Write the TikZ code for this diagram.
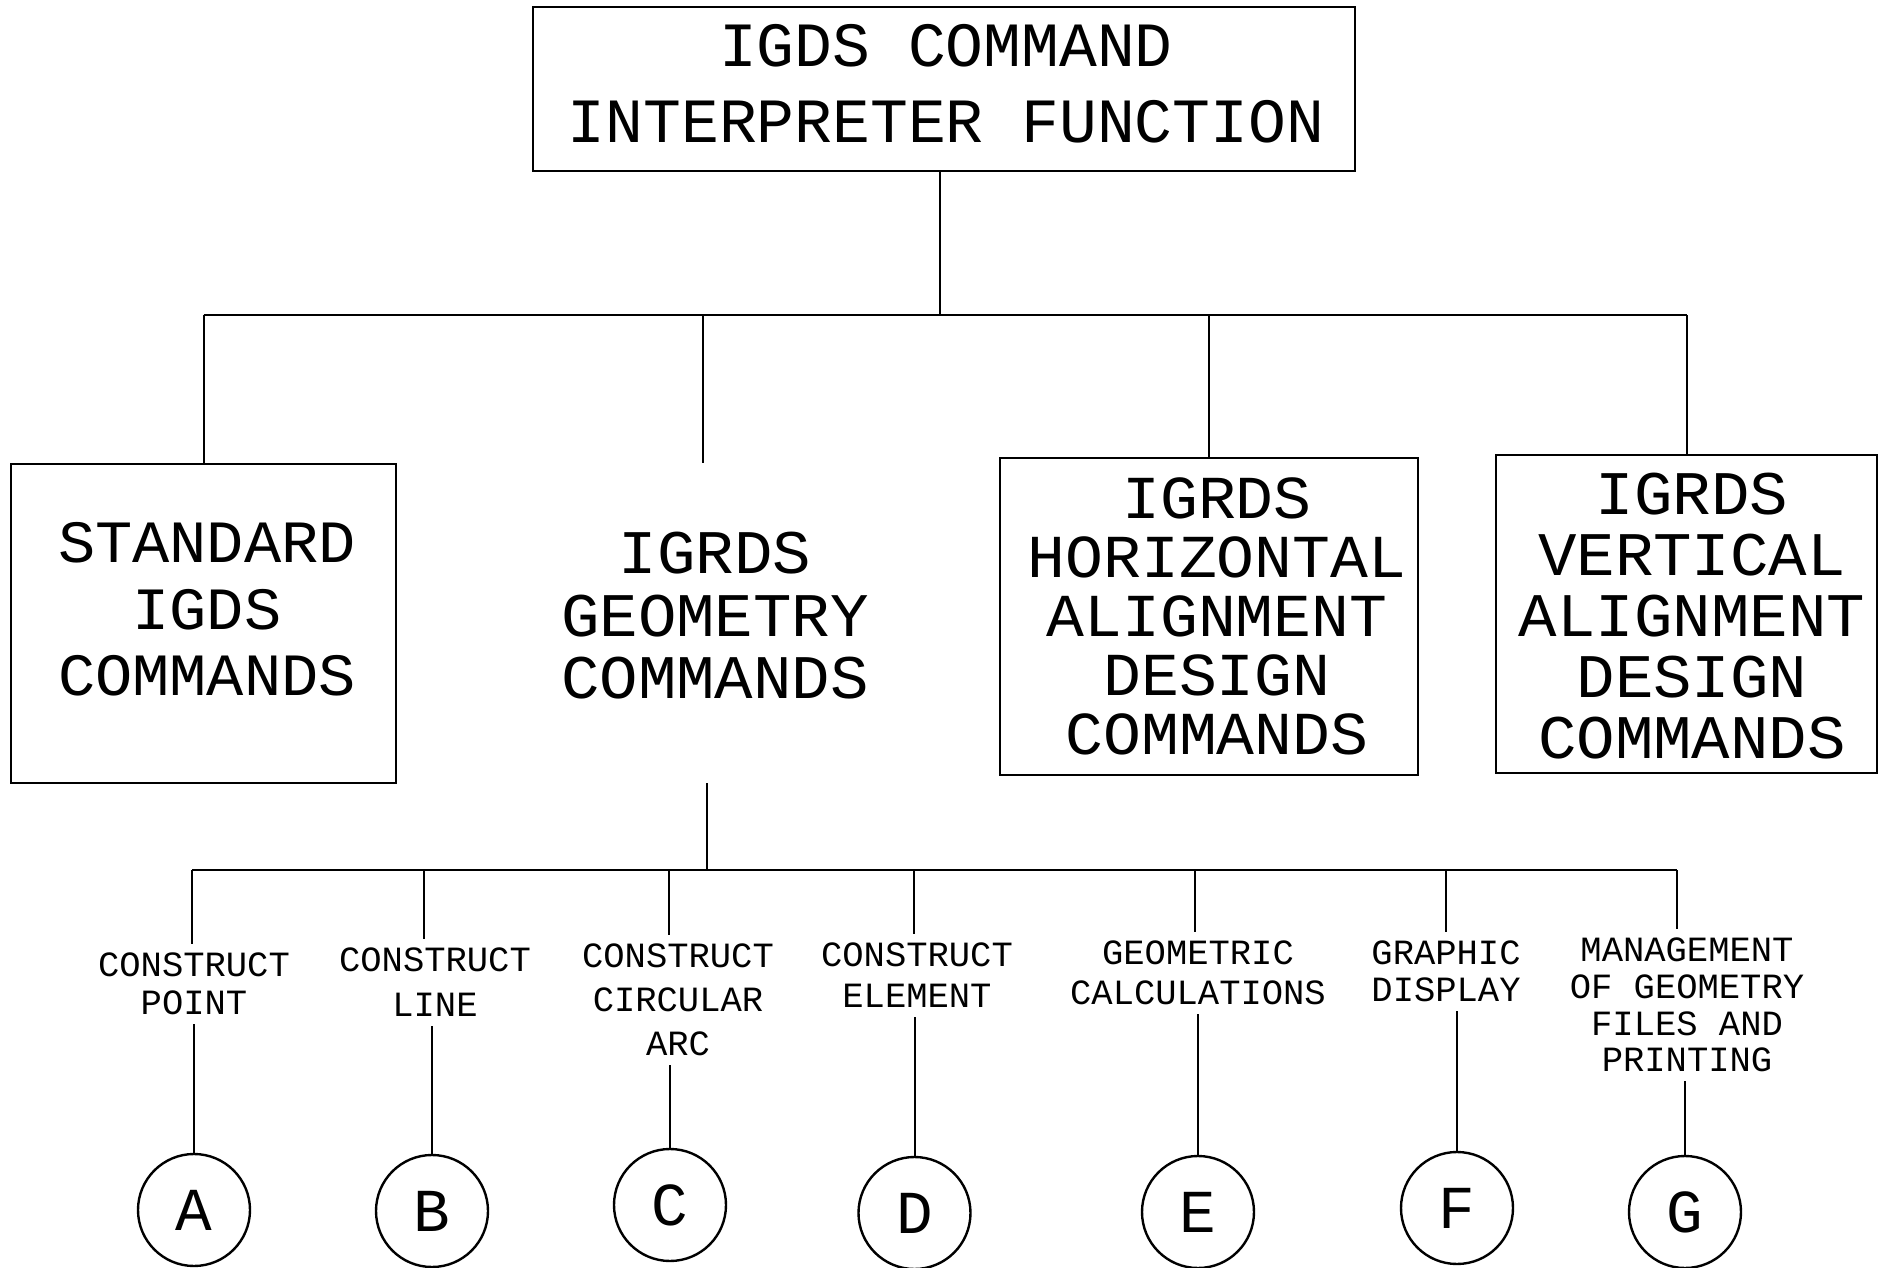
\documentclass[tikz,border=0pt]{standalone}
\usepackage{fontspec}
\newfontfamily\plotA{Liberation Mono}
\newfontfamily\plotB[FakeStretch=1.034]{Liberation Mono}
\begin{document}
\begin{tikzpicture}[x=1pt,y=-1pt,
  conn/.style={line width=2pt},
  boxnode/.style={draw, line width=2.6pt, rectangle, inner sep=0pt},
  bigtxt/.style={align=center, inner sep=0pt},
  lbl/.style={align=center, inner xsep=0pt, inner ysep=9pt},
  circ/.style={draw, circle, line width=2.4pt, minimum size=112pt, inner sep=0pt,
               font=\plotA\fontsize{61}{66}\selectfont}]
\useasboundingbox (0,0) rectangle (1883,1268);

% boxes
\node[boxnode, minimum width=822pt, minimum height=164pt] (top) at (944,89) {};
\node[boxnode, minimum width=385pt, minimum height=319pt] (std) at (203.5,623.5) {};
\node[boxnode, minimum width=418pt, minimum height=317pt] (hor) at (1209,616.5) {};
\node[boxnode, minimum width=381pt, minimum height=318pt] (ver) at (1686.5,614) {};

% box texts
\node[bigtxt, font=\plotA\fontsize{63}{76}\selectfont] (topT) at (946,83.5) {IGDS COMMAND\\INTERPRETER FUNCTION};
\node[bigtxt, font=\plotB\fontsize{60}{66.5}\selectfont] (stdT) at (207,609.5) {STANDARD\\IGDS\\COMMANDS};
\node[bigtxt, font=\plotB\fontsize{62}{62.5}\selectfont] (geoT) at (715,616) {IGRDS\\GEOMETRY\\COMMANDS};
\node[bigtxt, font=\plotB\fontsize{61}{59}\selectfont] (horT) at (1217,616) {IGRDS\\HORIZONTAL\\ALIGNMENT\\DESIGN\\COMMANDS};
\node[bigtxt, font=\plotB\fontsize{62}{61}\selectfont] (verT) at (1692,616.5) {IGRDS\\VERTICAL\\ALIGNMENT\\DESIGN\\COMMANDS};

% upper connectors
\coordinate (b1) at (940,315);
\coordinate (gtop) at (703,463);
\draw[conn] (b1 |- top.south) -- (b1);
\draw[conn] (std.north |- b1) -- (ver.north |- b1);
\draw[conn] (std.north |- b1) -- (std.north);
\draw[conn] (gtop |- b1) -- (gtop);
\draw[conn] (hor.north |- b1) -- (hor.north);
\draw[conn] (ver.north |- b1) -- (ver.north);

% lower bus
\coordinate (gbot) at (707,783);
\coordinate (b2) at (707,870);
\draw[conn] (gbot) -- (b2);
\coordinate (tA) at (192,870);
\coordinate (tB) at (424,870);
\coordinate (tC) at (669,870);
\coordinate (tD) at (914,870);
\coordinate (tE) at (1195,870);
\coordinate (tF) at (1446,870);
\coordinate (tG) at (1677,870);
\draw[conn] (tA) -- (tG);

% labels
\node[lbl, font=\plotA\fontsize{35.5}{38}\selectfont] (lA) at (194,984) {CONSTRUCT\\POINT};
\node[lbl, font=\plotA\fontsize{35.5}{45}\selectfont] (lB) at (435,982.5) {CONSTRUCT\\LINE};
\node[lbl, font=\plotA\fontsize{35.5}{44}\selectfont] (lC) at (678,1000) {CONSTRUCT\\CIRCULAR\\ARC};
\node[lbl, font=\plotA\fontsize{35.5}{41}\selectfont] (lD) at (917,975.5) {CONSTRUCT\\ELEMENT};
\node[lbl, font=\plotA\fontsize{35.5}{40}\selectfont] (lE) at (1198,973) {GEOMETRIC\\CALCULATIONS};
\node[lbl, font=\plotA\fontsize{35.5}{37}\selectfont] (lF) at (1446,971.5) {GRAPHIC\\DISPLAY};
\node[lbl, font=\plotA\fontsize{35.5}{36.7}\selectfont] (lG) at (1687,1005) {MANAGEMENT\\OF GEOMETRY\\FILES AND\\PRINTING};

% circles
\node[circ] (cA) at (194,1210) {A};
\node[circ] (cB) at (432,1211) {B};
\node[circ] (cC) at (670,1205) {C};
\node[circ] (cD) at (914.5,1213) {D};
\node[circ] (cE) at (1198,1212) {E};
\node[circ] (cF) at (1457,1208) {F};
\node[circ] (cG) at (1685,1212) {G};

% branch connectors
\foreach \k in {A,B,C,D,E,F,G}{
  \draw[conn] (t\k) -- (t\k |- l\k.north);
  \draw[conn] (l\k.south -| c\k.north) -- (c\k.north);
}
\end{tikzpicture}
\end{document}
